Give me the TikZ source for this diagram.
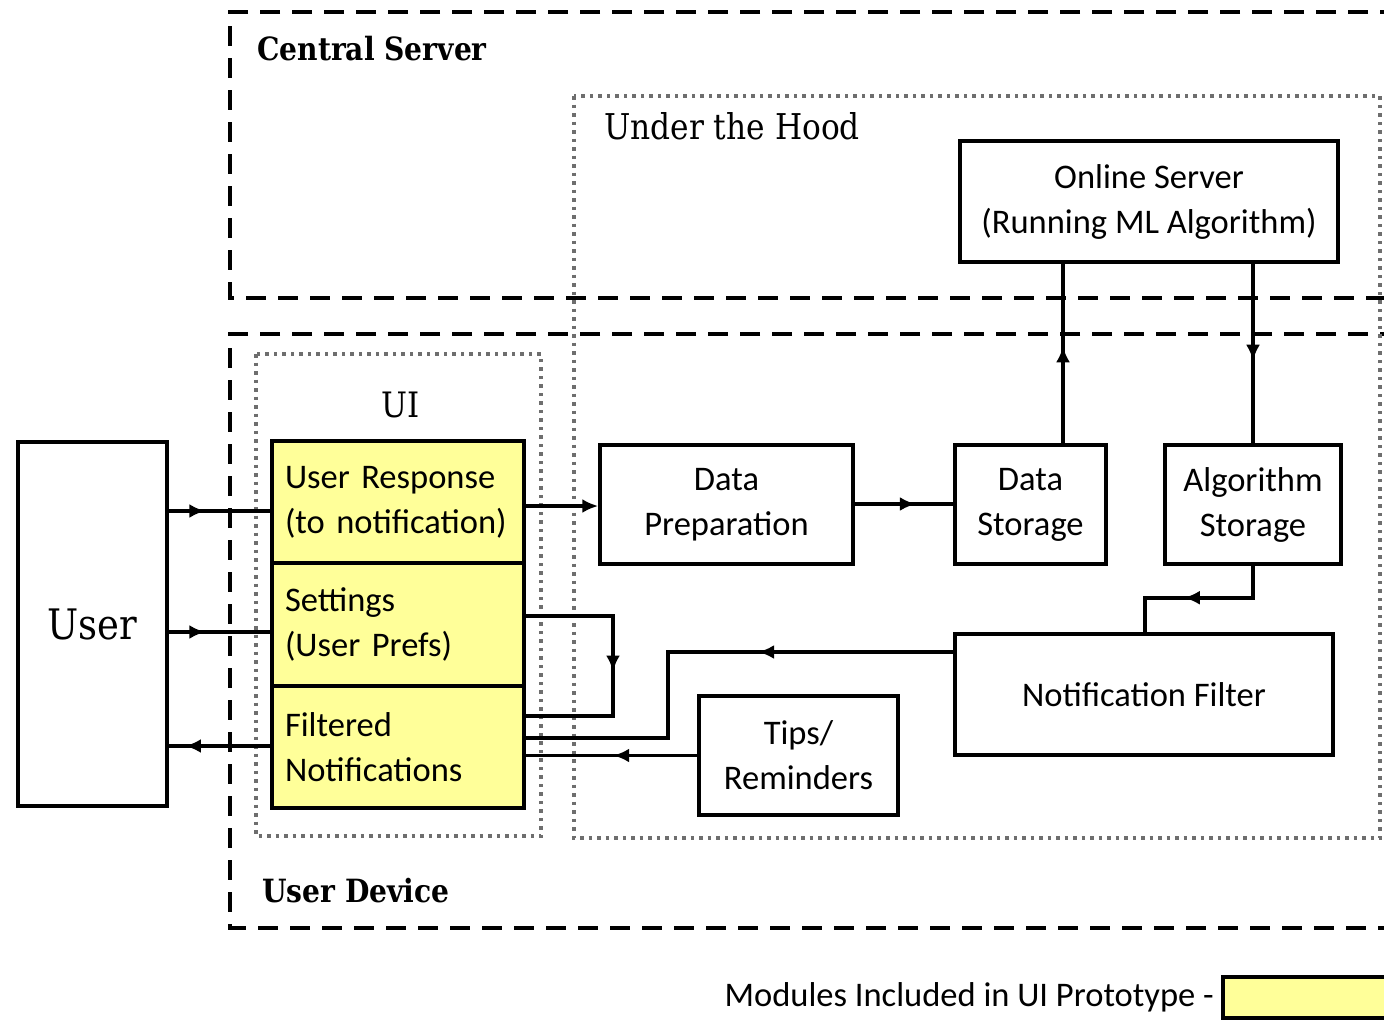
\documentclass[tikz,border=0pt]{standalone}
\usepackage{fontspec}
\setmainfont{Carlito}
\newfontfamily\slabfont[FakeStretch=0.88]{DejaVu Serif}
\usetikzlibrary{arrows.meta,decorations.markings}

\definecolor{protoyellow}{RGB}{255,255,153}
\definecolor{dotgray}{RGB}{110,110,110}
\newcommand\diagtext{\fontsize{34.5}{45}\selectfont}

\tikzset{
  blk/.style={draw=black, line width=3.5pt, inner sep=0pt, align=center, font=\diagtext},
  ymod/.style={blk, fill=protoyellow, align=left, text width=226pt, inner xsep=13pt,
               minimum width=252pt, minimum height=122pt},
  region/.style={line width=3.5pt, dash pattern=on 20pt off 12pt},
  group/.style={draw=dotgray, line width=3.5pt, dash pattern=on 3.5pt off 5pt},
  conn/.style={line width=3.5pt, line join=miter},
  tip/.style={-{Latex[length=16pt,width=14pt]}},
  midarrow/.style={conn, postaction={decorate}, decoration={markings,
      mark=at position #1 with {\arrow{Latex[length=16pt,width=14pt]}}}},
  heading/.style={anchor=base west, inner sep=0pt, font=\slabfont\bfseries\fontsize{32}{36}\selectfont},
}

\begin{document}
\begin{tikzpicture}[x=1pt, y=-1pt]
  \useasboundingbox (0,0) rectangle (1384,1020);
  \clip (0,0) rectangle (1384,1020);

  % server and device regions
  \draw[region] (1400,12) -- (230,12) -- (230,298) -- (1400,298);
  \draw[region] (1400,334) -- (230,334) -- (230,928) -- (1400,928);
  \node[heading] (cslabel) at (257,60) {Central Server};
  \node[heading] (udlabel) at (262,902) {User Device};

  % dotted groups
  \draw[group] (574,96) rectangle (1380,838);
  \draw[group] (256,354) rectangle (541,836);
  \node[anchor=base west, inner sep=0pt, font=\slabfont\fontsize{35.5}{40}\selectfont]
    (hoodlabel) at (604,139) {Under the Hood};
  \node[anchor=base, inner sep=0pt, font=\slabfont\fontsize{35}{40}\selectfont]
    (uilabel) at (401,417) {UI};

  % modules
  \node[blk, minimum width=149pt, minimum height=364pt,
        font=\slabfont\fontsize{42}{48}\selectfont] (user) at (92.5,624) {User};
  \node[ymod] (ur) at (398,502) {User Response\\(to notification)};
  \node[ymod] (settings) at (398,624.5) {Settings\\(User Prefs)};
  \node[ymod] (filtered) at (398,747) {Filtered\\Notifications};
  \node[blk, minimum width=253pt, minimum height=119pt] (dataprep) at (726.5,504.5) {Data\\Preparation};
  \node[blk, minimum width=151pt, minimum height=119pt] (datastore) at (1030.5,504.5) {Data\\Storage};
  \node[blk, minimum width=176pt, minimum height=119pt] (algstore) at (1253,504.5) {Algorithm\\Storage};
  \node[blk, minimum width=378pt, minimum height=121pt] (online) at (1149,201.5) {Online Server\\(Running ML Algorithm)};
  \node[blk, minimum width=378pt, minimum height=121pt] (nfilter) at (1144,694.5) {Notification Filter};
  \node[blk, minimum width=199pt, minimum height=119pt] (tips) at (798.5,755.5) {Tips/\\Reminders};

  % connectors
  \draw[midarrow=0.36] (user.east |- 0,511) -- (ur.west |- 0,511);
  \draw[midarrow=0.36] (user.east |- 0,632) -- (settings.west |- 0,632);
  \draw[midarrow=0.84] (filtered.west |- 0,746) -- (user.east |- 0,746);
  \draw[conn, tip] (ur.east |- 0,506) -- (dataprep.west |- 0,506);
  \draw[midarrow=0.62] (dataprep.east |- 0,504) -- (datastore.west |- 0,504);
  \draw[midarrow=0.54] (datastore.north -| 1063,0) -- (online.south -| 1063,0);
  \draw[midarrow=0.54] (online.south -| algstore.north) -- (algstore.north);
  \draw[midarrow=0.58] (algstore.south) -- ++(0,32) -| (nfilter.north -| 1145,0);
  \draw[midarrow=0.38] (nfilter.west |- 0,652) -| (668,738) -- (filtered.east |- 0,738);
  \draw[midarrow=0.49] (tips.west) -- (filtered.east |- tips.west);
  \draw[midarrow=0.52] (settings.east |- 0,616) -| (613,716) -- (filtered.east |- 0,716);

  % legend
  \node[anchor=base east, inner sep=0pt, font=\diagtext] (legendtext) at (1214,1006)
    {Modules Included in UI Prototype -};
  \node[draw=black, line width=3.5pt, fill=protoyellow, anchor=west, inner sep=0pt,
        minimum width=300pt, minimum height=41pt] (legendbox) at (1221,997.5) {};
\end{tikzpicture}
\end{document}
